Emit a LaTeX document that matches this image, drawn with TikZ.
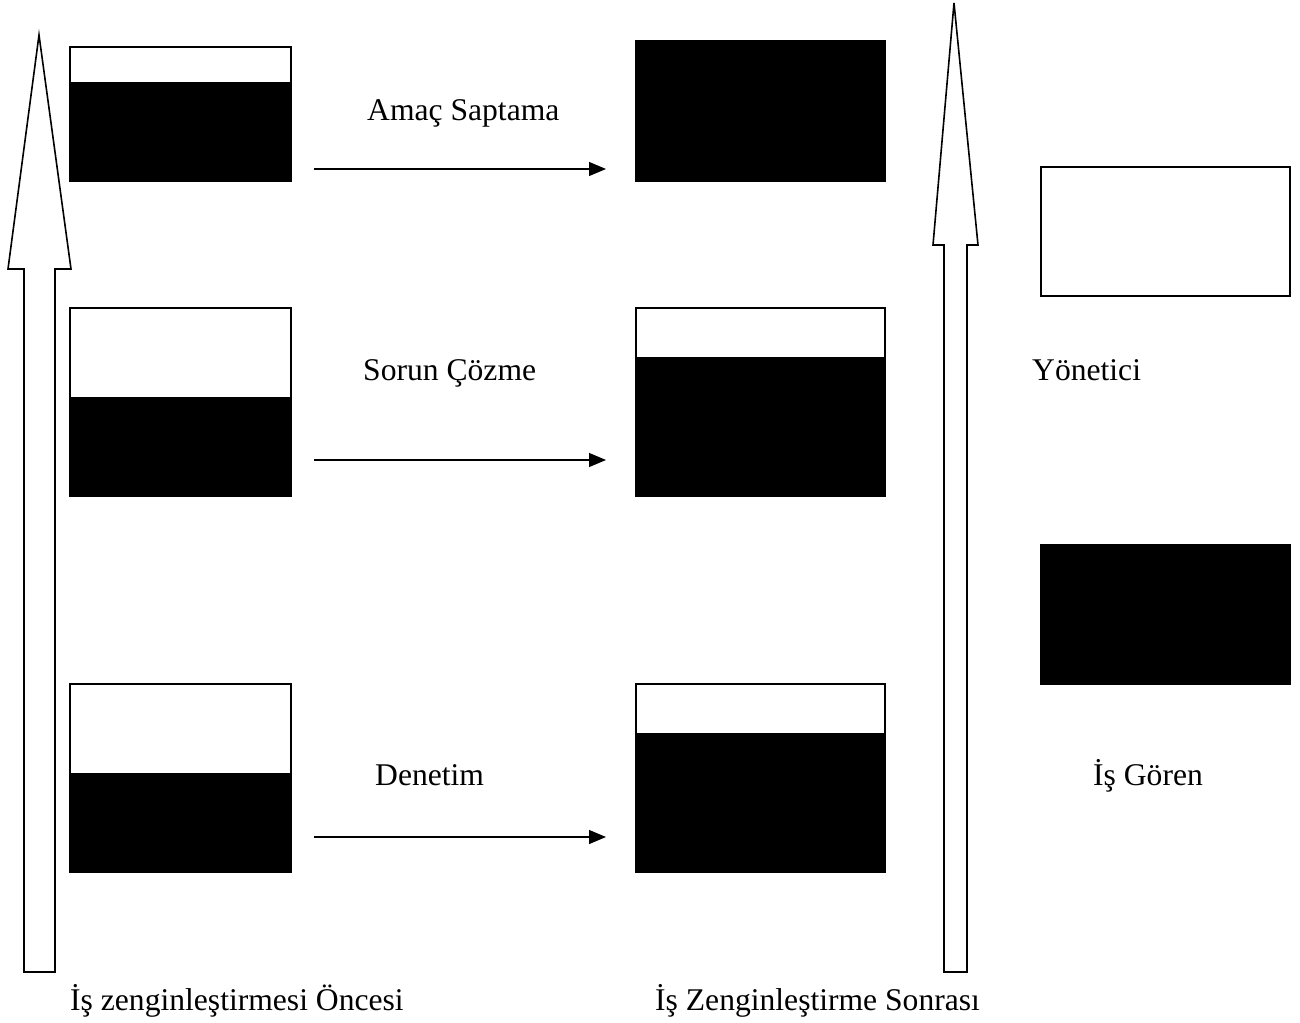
\documentclass[tikz,border=0pt]{standalone}
\usepackage{fontspec}
\setmainfont{Liberation Serif}
\usetikzlibrary{calc,arrows.meta}
\begin{document}
\begin{tikzpicture}[x=1pt,y=-1pt,
  box/.style={draw, line width=1.2pt, inner sep=0pt, outer sep=0pt, anchor=north west, fill=white},
  lbox/.style={box, minimum width=221pt, minimum height=188pt},
  mbox/.style={box, minimum width=249pt, minimum height=188pt},
  label/.style={inner sep=0pt, anchor=base west, font=\fontsize{31.6}{38}\selectfont},
  flow/.style={line width=1.2pt, -{Triangle[length=17pt,width=14pt]}},
  bigarrow/.style={draw, line width=1.6pt, fill=white, line join=miter}]
\useasboundingbox (0,0) rectangle (1300,1022);

% hollow upward arrows
\draw[bigarrow] (24,972) -- (24,269) -- (8,269) -- (39,35) -- (71,269) -- (55,269) -- (55,972) -- cycle;
\draw[bigarrow] (944,972) -- (944,245) -- (933,245) -- (954,3) -- (978,245) -- (967,245) -- (967,972) -- cycle;

% before: left column
\node[lbox, minimum height=134pt] (L1) at (70,47) {};
\fill ($(L1.north west)+(0,35)$) rectangle (L1.south east);
\node[lbox] (L2) at (70,308) {};
\fill ($(L2.north west)+(0,89)$) rectangle (L2.south east);
\node[lbox] (L3) at (70,684) {};
\fill ($(L3.north west)+(0,89)$) rectangle (L3.south east);

% after: middle column
\node[mbox, minimum height=140pt, fill=black] (M1) at (636,41) {};
\node[mbox] (M2) at (636,308) {};
\fill ($(M2.north west)+(0,49)$) rectangle (M2.south east);
\node[mbox] (M3) at (636,684) {};
\fill ($(M3.north west)+(0,49)$) rectangle (M3.south east);

% legend
\node[box, minimum width=249pt, minimum height=129pt] (Y) at (1041,167) {};
\node[box, minimum width=249pt, minimum height=139pt, fill=black] (G) at (1041,545) {};

% transitions
\coordinate (a1s) at (314,169); \coordinate (a1e) at (606,169);
\coordinate (a2s) at (314,460); \coordinate (a2e) at (606,460);
\coordinate (a3s) at (314,837); \coordinate (a3e) at (606,837);
\draw[flow] (a1s) -- (a1e);
\draw[flow] (a2s) -- (a2e);
\draw[flow] (a3s) -- (a3e);

% labels
\node[label] (t1) at (367,121) {Amaç Saptama};
\node[label] (t2) at (363,380) {Sorun Çözme};
\node[label] (t3) at (375,785) {Denetim};
\node[label] (t4) at (1032,380) {Yönetici};
\node[label] (t5) at (1093,785) {İş Gören};
\node[label] (t6) at (70,1010) {İş zenginleştirmesi Öncesi};
\node[label] (t7) at (655,1010) {İş Zenginleştirme Sonrası};
\end{tikzpicture}
\end{document}
